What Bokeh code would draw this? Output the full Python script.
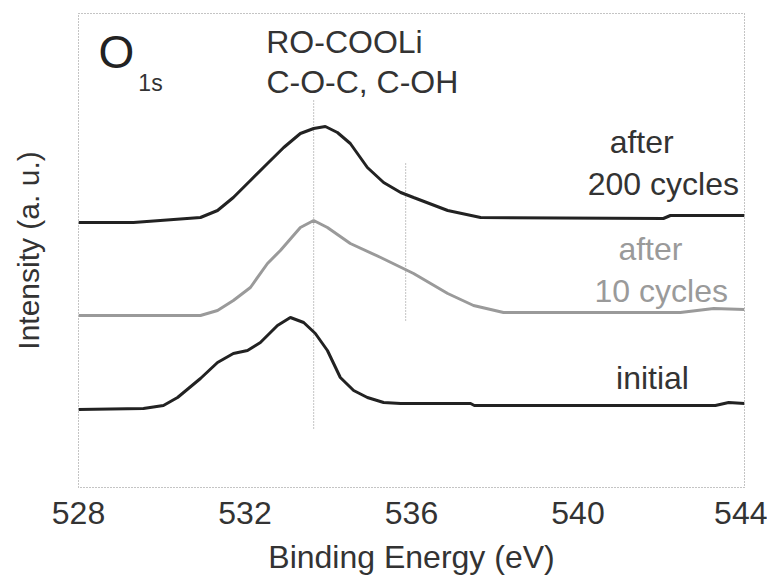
from bokeh.plotting import figure
from bokeh.models import Range1d, FixedTicker, Label
from bokeh.embed import file_html
from bokeh.resources import INLINE

# ---- data (binding energy in eV, intensity in arbitrary units, offset stacks) ----
initial_x = [528.0, 529.56, 530.04, 530.38, 530.93, 531.34, 531.72, 532.06, 532.37, 532.78,
             533.09, 533.41, 533.69, 533.98, 534.29, 534.61, 534.94, 535.33, 535.74, 537.42,
             537.51, 543.30, 543.62, 544.0]
initial_y = [78, 79, 82, 90, 109, 125, 134, 137, 145, 162,
             170, 165, 154, 137, 110, 97, 90, 85, 84, 84,
             82, 82, 85, 84]

c10_x = [528.0, 530.93, 531.34, 531.72, 532.13, 532.54, 532.85, 533.33, 533.65, 533.98,
         534.53, 535.26, 536.05, 536.87, 537.49, 538.21, 542.46, 543.26, 544.0]
c10_y = [172, 172, 177, 187, 200, 224, 237, 260, 267, 260,
         244, 230, 214, 194, 182, 175, 175, 179, 178]

c200_x = [528.0, 529.32, 530.93, 531.34, 531.72, 532.13, 532.54, 532.93, 533.33, 533.65,
          533.93, 534.22, 534.53, 534.94, 535.33, 535.74, 536.05, 536.87, 537.66, 542.05,
          542.22, 544.0]
c200_y = [265, 265, 270, 277, 290, 307, 324, 340, 354, 359,
          361, 355, 344, 320, 305, 295, 290, 277, 270, 269,
          272, 272]

# reference peak markers (eV) and their vertical extents
marker_x = [533.65, 535.86]
marker_y0 = [59, 167]
marker_y1 = [388, 324]

x_ticks = [528, 532, 536, 540, 544]

FONT = "Liberation Sans"

p = figure(width=767, height=578, output_backend="svg", toolbar_location=None,
           x_range=Range1d(528, 544), y_range=Range1d(0, 474),
           min_border_left=78, min_border_right=23, min_border_top=13, min_border_bottom=91)

p.xgrid.visible = False
p.ygrid.visible = False
p.outline_line_color = "#888888"
p.outline_line_dash = "1 2"
p.outline_line_width = 1
p.background_fill_color = "white"
p.border_fill_color = "white"

# x axis
p.xaxis.ticker = FixedTicker(ticks=x_ticks)
p.xaxis.axis_line_color = None
p.xaxis.major_tick_line_color = None
p.xaxis.minor_tick_line_color = None
p.xaxis.major_label_text_font = FONT
p.xaxis.major_label_text_font_size = "32px"
p.xaxis.major_label_text_color = "#333333"
p.xaxis.major_label_standoff = 8
p.xaxis.axis_label = "Binding Energy (eV)"
p.xaxis.axis_label_text_font = FONT
p.xaxis.axis_label_text_font_size = "32px"
p.xaxis.axis_label_text_font_style = "normal"
p.xaxis.axis_label_text_color = "#333333"
p.xaxis.axis_label_standoff = 12

# y axis
p.yaxis.ticker = FixedTicker(ticks=[])
p.yaxis.axis_line_color = None
p.yaxis.major_tick_line_color = None
p.yaxis.minor_tick_line_color = None
p.yaxis.axis_label = "Intensity (a. u.)"
p.yaxis.axis_label_text_font = FONT
p.yaxis.axis_label_text_font_size = "30px"
p.yaxis.axis_label_text_font_style = "normal"
p.yaxis.axis_label_text_color = "#333333"
p.yaxis.axis_label_standoff = 34

# vertical dotted markers
p.segment(x0=marker_x, y0=marker_y0, x1=marker_x, y1=marker_y1,
          line_color="#888888", line_dash="1 2", line_width=1)

# spectra
p.line(initial_x, initial_y, line_color="#222222", line_width=3)
p.line(c10_x, c10_y, line_color="#9a9a9a", line_width=3)
p.line(c200_x, c200_y, line_color="#222222", line_width=3)

def lab(x, y, text, size, color="#333333", align="center"):
    p.add_layout(Label(x=x, y=y, text=text, text_font=FONT, text_font_size=size,
                       text_color=color, text_align=align, text_baseline="middle"))

lab(528.91, 436, "O", "46px", "#222222")
lab(529.73, 405, "1s", "23px", "#333333")
lab(534.39, 446, "RO-COOLi", "32px")
lab(534.82, 406, "C-O-C, C-OH", "32px")
lab(541.53, 346, "after", "32px")
lab(542.05, 304, "200 cycles", "32px")
lab(541.74, 239, "after", "32px", "#9a9a9a")
lab(542.0, 197, "10 cycles", "32px", "#9a9a9a")
lab(541.79, 110, "initial", "32px")

open("out.html", "w").write(file_html(p, INLINE))
